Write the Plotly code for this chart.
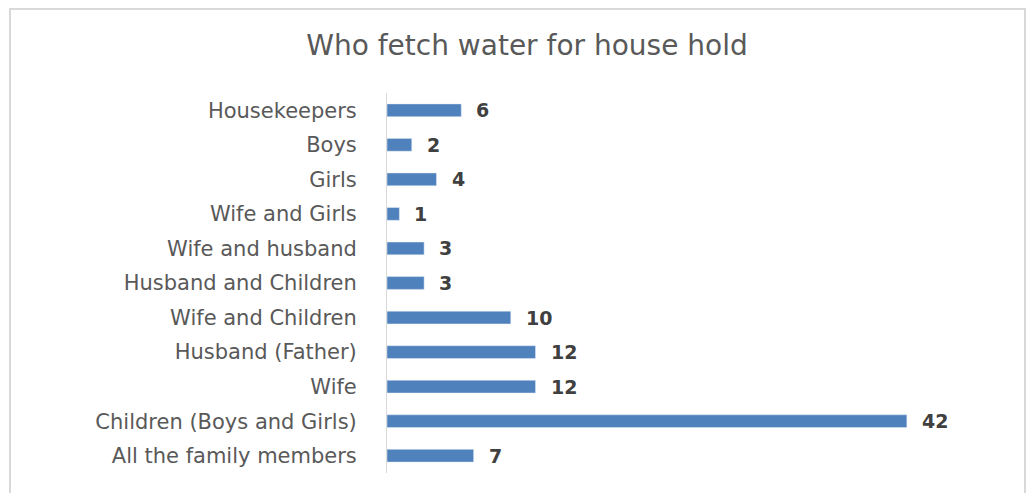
import plotly.graph_objects as go

categories = ["All the family members", "Children (Boys and Girls)", "Wife", "Husband (Father)",
              "Wife and Children", "Husband and Children", "Wife and husband", "Wife and Girls",
              "Girls", "Boys", "Housekeepers"]
values = [7, 42, 12, 12, 10, 3, 3, 1, 4, 2, 6]

fig = go.Figure(go.Bar(
    y=categories, x=values, orientation="h",
    marker=dict(color="#4F81BD"), width=0.37,
    hoverinfo="x+y",
))

# page body has an 8px offset; the figure is sized to fill the rest of the window
W, H = 1027, 485
OFF = 8
l, r, t, b = 387 - OFF, W - (944 - OFF), 93 - OFF, H - (473 - OFF)
pw, ph = W - l - r, H - t - b

def px_x(x):
    return (x - OFF - l) / pw

def px_y(y):
    return (H - b - (y - OFF)) / ph

annotations = [dict(x=v, y=c, xref="x", yref="y", text=str(v), showarrow=False,
                    xanchor="left", yanchor="middle", xshift=13,
                    font=dict(family="DejaVu Sans", size=19, color="#404040", weight="bold"))
               for c, v in zip(categories, values)]

fig.update_layout(
    width=W, height=H,
    margin=dict(l=l, r=r, t=t, b=b),
    paper_bgcolor="white", plot_bgcolor="white",
    title=dict(text="Who fetch water for house hold", x=(527 - OFF) / W, xanchor="center",
               y=1 - (45 - OFF) / H, yanchor="middle",
               font=dict(family="DejaVu Sans", size=28, color="#595959")),
    xaxis=dict(range=[0, 45], visible=False, showgrid=False, zeroline=False),
    yaxis=dict(categoryorder="array", categoryarray=categories,
               showline=True, linecolor="#D9D9D9", linewidth=1,
               ticks="", ticklabelstandoff=25, showgrid=False,
               tickfont=dict(family="DejaVu Sans", size=21, color="#595959")),
    showlegend=False,
    annotations=annotations,
    shapes=[dict(type="rect", xref="paper", yref="paper",
                 x0=px_x(10), x1=px_x(1025), y0=px_y(505), y1=px_y(9),
                 line=dict(color="#D9D9D9", width=2), fillcolor="rgba(0,0,0,0)", layer="below")],
)

fig.write_html("out.html")
